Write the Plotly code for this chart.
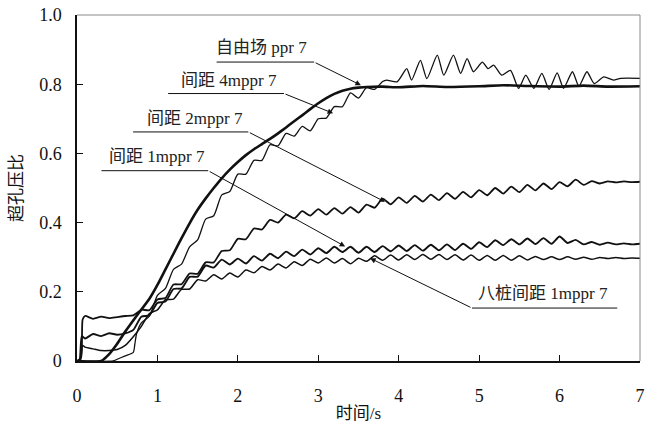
import plotly.graph_objects as go

# ---------------- data ----------------
t_grid = [0.8, 0.9, 1.0, 1.1, 1.2, 1.3, 1.4, 1.5, 1.6, 1.7, 1.8, 1.9, 2.0, 2.1, 2.2, 2.3,
          2.4, 2.5, 2.6, 2.7, 2.8, 2.9, 3.0, 3.1, 3.2, 3.3, 3.4, 3.5, 3.6, 3.7, 3.8, 3.9,
          4.0, 4.1, 4.2, 4.3, 4.4, 4.5, 4.6, 4.7, 4.8, 4.9, 5.0, 5.1, 5.2, 5.3, 5.4, 5.5,
          5.6, 5.7, 5.8, 5.9, 6.0, 6.1, 6.2, 6.3, 6.4, 6.5, 6.6, 6.7, 6.8, 6.9, 7.0]

# free field (thick, smooth)
t_free = [0, 0.3, 0.4, 0.5, 0.6, 0.74, 0.9, 1.0, 1.1, 1.2, 1.3, 1.4, 1.5, 1.6, 1.7, 1.8, 1.9,
          2.0, 2.1, 2.2, 2.3, 2.4, 2.5, 2.6, 2.7, 2.8, 2.9, 3.0, 3.1, 3.2, 3.3, 3.4, 3.5,
          3.6, 3.8, 4.0, 4.3, 4.6, 5.0, 5.3, 5.6, 6.0, 6.3, 6.6, 7.0]
v_free = [0, 0, 0.02, 0.05, 0.085, 0.13, 0.18, 0.22, 0.265, 0.31, 0.355, 0.398, 0.437, 0.47,
          0.5, 0.528, 0.553, 0.575, 0.595, 0.612, 0.627, 0.642, 0.658, 0.675, 0.693, 0.71,
          0.728, 0.745, 0.76, 0.772, 0.781, 0.787, 0.79, 0.792, 0.793, 0.791, 0.795, 0.792,
          0.794, 0.797, 0.795, 0.793, 0.796, 0.793, 0.794]

# spacing 4 m (thin, stepped, oscillating)
t_4m = [0, 0.45, 0.5, 0.6, 0.7, 0.72, 0.74, 0.8, 0.9, 1.0, 1.1, 1.2, 1.3, 1.4, 1.5, 1.6,
        1.7, 1.8, 1.9, 2.0, 2.1, 2.2, 2.3, 2.4, 2.5, 2.6, 2.7, 2.8, 2.9, 3.0, 3.1, 3.2,
        3.3, 3.4, 3.5, 3.6, 3.7, 3.8, 3.85, 3.98, 4.10, 4.16, 4.27, 4.35, 4.48, 4.56,
        4.68, 4.77, 4.85, 4.93, 5.04, 5.11, 5.18, 5.28, 5.39, 5.49, 5.58, 5.68, 5.78,
        5.87, 5.97, 6.05, 6.16, 6.24, 6.34, 6.43, 6.55, 6.67, 6.76, 7.0]
v_4m = [0, 0, 0.005, 0.015, 0.025, 0.05, 0.078, 0.11, 0.13, 0.19, 0.21, 0.265, 0.28, 0.33,
        0.35, 0.41, 0.42, 0.48, 0.49, 0.54, 0.54, 0.58, 0.58, 0.625, 0.622, 0.658, 0.65,
        0.678, 0.665, 0.70, 0.702, 0.735, 0.735, 0.775, 0.76, 0.79, 0.785, 0.808, 0.812,
        0.807, 0.845, 0.812, 0.869, 0.816, 0.884, 0.826, 0.884, 0.831, 0.874, 0.836, 0.864,
        0.845, 0.855, 0.826, 0.84, 0.788, 0.826, 0.788, 0.831, 0.785, 0.833, 0.788, 0.836,
        0.794, 0.836, 0.802, 0.821, 0.812, 0.817, 0.817]

# spacing 2 m
t_2m_early = [0, 0.05, 0.07, 0.1, 0.2, 0.3, 0.4, 0.5, 0.6, 0.7]
v_2m_early = [0, 0.01, 0.12, 0.13, 0.122, 0.128, 0.124, 0.127, 0.13, 0.132]
v_2m = [0.148, 0.147, 0.178, 0.182, 0.221, 0.222, 0.253, 0.252, 0.285, 0.285, 0.318, 0.32,
        0.353, 0.352, 0.383, 0.38, 0.408, 0.4, 0.423, 0.412, 0.433, 0.42, 0.439, 0.423,
        0.442, 0.426, 0.445, 0.429, 0.452, 0.443, 0.469, 0.453, 0.473, 0.457, 0.477, 0.461,
        0.481, 0.465, 0.485, 0.469, 0.489, 0.473, 0.494, 0.479, 0.5, 0.484, 0.504, 0.488,
        0.509, 0.493, 0.513, 0.497, 0.517, 0.505, 0.524, 0.509, 0.52, 0.513, 0.519, 0.516,
        0.519, 0.517, 0.518]

# spacing 1 m
t_1m_early = [0, 0.03, 0.06, 0.1, 0.2, 0.3, 0.4, 0.5, 0.6, 0.7]
v_1m_early = [0, 0.0, 0.072, 0.065, 0.078, 0.072, 0.08, 0.076, 0.08, 0.09]
v_1m = [0.128, 0.132, 0.168, 0.172, 0.208, 0.21, 0.243, 0.244, 0.276, 0.27, 0.293, 0.279,
        0.296, 0.282, 0.303, 0.29, 0.31, 0.297, 0.316, 0.303, 0.322, 0.308, 0.326, 0.312,
        0.33, 0.315, 0.33, 0.313, 0.33, 0.315, 0.332, 0.317, 0.334, 0.318, 0.335, 0.319,
        0.336, 0.32, 0.337, 0.321, 0.339, 0.324, 0.343, 0.329, 0.349, 0.335, 0.352, 0.337,
        0.354, 0.338, 0.355, 0.339, 0.36, 0.341, 0.35, 0.337, 0.344, 0.336, 0.342, 0.337,
        0.34, 0.337, 0.339]

# eight piles, spacing 1 m
t_8p_early = [0, 0.04, 0.07, 0.1, 0.2, 0.3, 0.4, 0.5, 0.6, 0.7]
v_8p_early = [0, 0.0, 0.045, 0.04, 0.035, 0.03, 0.03, 0.033, 0.045, 0.07]
v_8p = [0.1, 0.137, 0.148, 0.177, 0.179, 0.207, 0.208, 0.235, 0.231, 0.249, 0.237, 0.254,
        0.243, 0.263, 0.255, 0.273, 0.263, 0.28, 0.269, 0.287, 0.276, 0.294, 0.283, 0.298,
        0.283, 0.296, 0.281, 0.297, 0.288, 0.304, 0.291, 0.306, 0.292, 0.307, 0.293, 0.308,
        0.294, 0.308, 0.293, 0.307, 0.292, 0.306, 0.291, 0.305, 0.291, 0.305, 0.291, 0.304,
        0.292, 0.302, 0.293, 0.301, 0.293, 0.301, 0.294, 0.3, 0.294, 0.299, 0.296, 0.299,
        0.296, 0.298, 0.297]

x_ticks = [0, 1, 2, 3, 4, 5, 6, 7]
y_ticks = [0, 0.2, 0.4, 0.6, 0.8, 1.0]
y_tick_text = ["0", "0.2", "0.4", "0.6", "0.8", "1.0"]

# callouts: label, text anchor (t, v), leader start t, leader end t, leader v, arrow tip (t, v)
labels = ["自由场 ppr 7", "间距 4mppr 7", "间距 2mppr 7", "间距 1mppr 7", "八桩间距 1mppr 7"]
label_pos = [(2.30, 0.905), (1.89, 0.812), (1.47, 0.702), (1.00, 0.590), (5.80, 0.196)]
leader_t0 = [1.736, 1.133, 0.697, 0.304, 4.911]
leader_t1 = [2.948, 2.574, 2.130, 1.631, 6.717]
leader_v = [0.864, 0.773, 0.662, 0.550, 0.153]
leader_from_start = [False, False, False, False, True]
arrow_tip = [(3.53, 0.797), (3.184, 0.716), (3.83, 0.460), (3.334, 0.331), (3.645, 0.297)]

# ---------------- figure ----------------
FONT = "Liberation Serif, Times New Roman, Noto Sans CJK SC, serif"
INK = "#111111"

fig = go.Figure()

def add_line(x, y, width, smooth=0.6):
    fig.add_trace(go.Scatter(x=x, y=y, mode="lines",
                             line=dict(color=INK, width=width, shape="spline", smoothing=smooth),
                             showlegend=False, hoverinfo="skip"))

add_line(t_8p_early + t_grid, v_8p_early + v_8p, 1.5)
add_line(t_1m_early + t_grid, v_1m_early + v_1m, 1.9)
add_line(t_2m_early + t_grid, v_2m_early + v_2m, 1.8)
add_line(t_4m, v_4m, 1.3)
add_line(t_free, v_free, 2.6, 0.5)

shapes = []
annotations = []
for i, lab in enumerate(labels):
    shapes.append(dict(type="line", xref="x", yref="y",
                       x0=leader_t0[i], x1=leader_t1[i], y0=leader_v[i], y1=leader_v[i],
                       line=dict(color=INK, width=1)))
    tail_t = leader_t0[i] if leader_from_start[i] else leader_t1[i]
    annotations.append(dict(x=arrow_tip[i][0], y=arrow_tip[i][1], xref="x", yref="y",
                            ax=tail_t, ay=leader_v[i], axref="x", ayref="y",
                            showarrow=True, arrowhead=2, arrowsize=1.1, arrowwidth=1,
                            arrowcolor=INK, text=""))
    annotations.append(dict(x=label_pos[i][0], y=label_pos[i][1], xref="x", yref="y",
                            text=lab, showarrow=False,
                            font=dict(family=FONT, size=17, color="#222222")))

# grey top and right frame
shapes.append(dict(type="line", xref="paper", yref="paper", x0=0, x1=1, y0=1, y1=1,
                   line=dict(color="#8a8a8a", width=1)))
shapes.append(dict(type="line", xref="paper", yref="paper", x0=1, x1=1, y0=0, y1=1,
                   line=dict(color="#8a8a8a", width=1)))

fig.update_layout(
    width=658, height=432,
    margin=dict(l=77, r=18, t=15, b=71),
    paper_bgcolor="white", plot_bgcolor="white",
    font=dict(family=FONT, size=18, color=INK),
    shapes=shapes, annotations=annotations,
    xaxis=dict(range=[0, 7], tickvals=x_ticks, ticks="inside", ticklen=6, tickwidth=1,
               tickcolor=INK, showline=True, linecolor=INK, linewidth=1.5, showgrid=False,
               zeroline=False, ticklabelstandoff=18, automargin=False,
               title=dict(text="时间/s", font=dict(size=17), standoff=2)),
    yaxis=dict(range=[0, 1], tickvals=y_ticks, ticktext=y_tick_text, ticks="inside",
               ticklen=6, tickwidth=1, tickcolor=INK, showline=True, linecolor=INK,
               linewidth=1.5, showgrid=False, zeroline=False, ticklabelstandoff=10,
               automargin=False,
               title=dict(text="超孔压比", font=dict(size=17), standoff=12)),
)

fig.write_html("out.html", config={"displayModeBar": False},
               post_script="document.body.style.margin='0';document.body.style.padding='0';")
